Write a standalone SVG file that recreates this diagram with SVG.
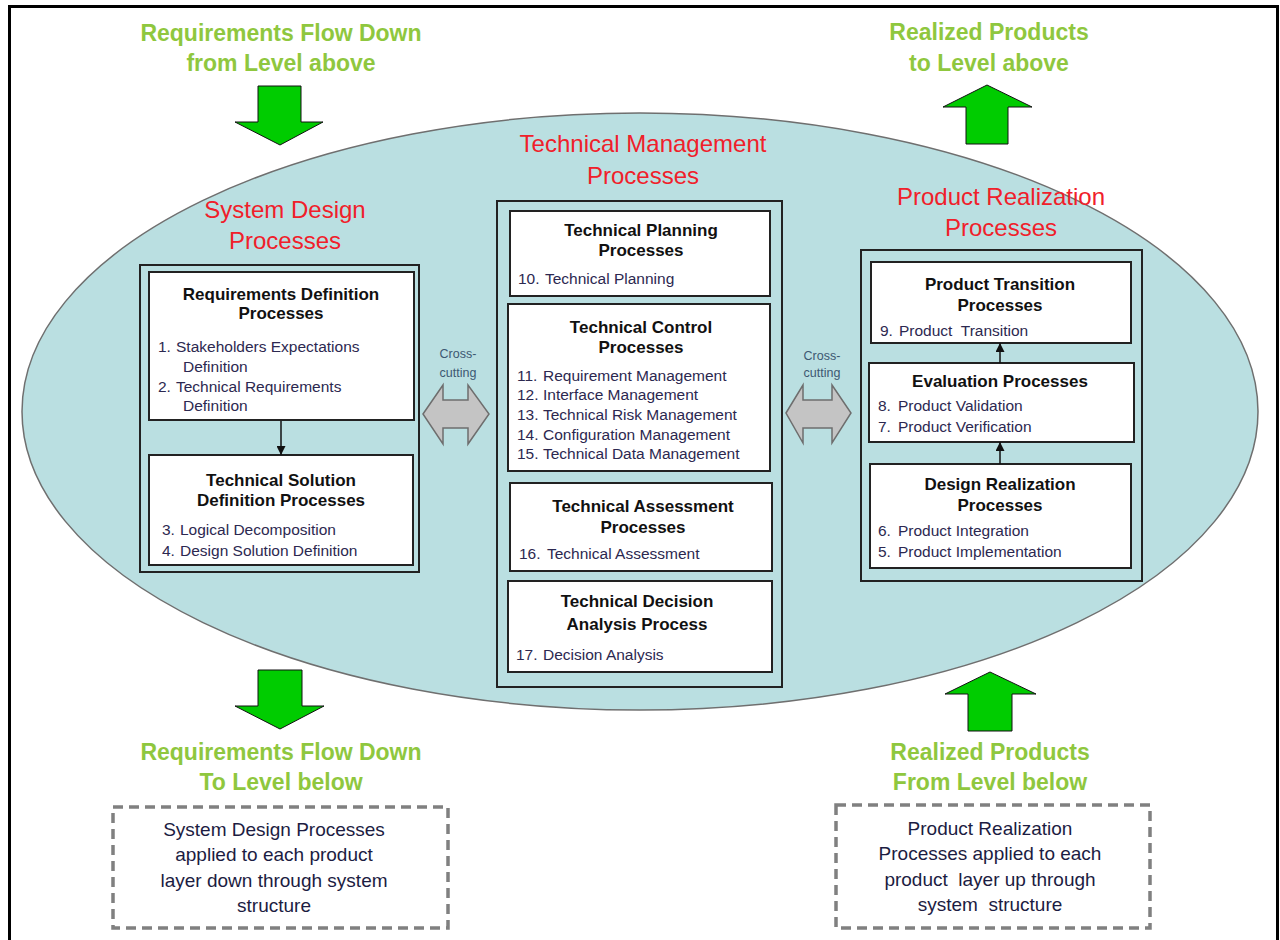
<svg xmlns="http://www.w3.org/2000/svg" width="1280" height="940" viewBox="0 0 1280 940">
<defs>
<style>
.green{font-family:"Liberation Sans",Arial,sans-serif;font-weight:bold;font-size:23px;fill:#8fc73e;text-anchor:middle}
.red{font-family:"Liberation Sans",Arial,sans-serif;font-size:24px;fill:#f0202a;text-anchor:middle}
.cont{fill:none;stroke:#222;stroke-width:2}
.box{fill:#fff;stroke:#222;stroke-width:2}
.title{font-family:"Liberation Sans",Arial,sans-serif;font-weight:bold;font-size:17px;fill:#111;text-anchor:middle}
.item{font-family:"Liberation Sans",Arial,sans-serif;font-size:15.5px;fill:#2c2850;white-space:pre}
.cc{font-family:"Liberation Sans",Arial,sans-serif;font-size:12.5px;fill:#3d5872;text-anchor:middle}
.dash{fill:none;stroke:#808080;stroke-width:3.5;stroke-dasharray:10 6}
.note{font-family:"Liberation Sans",Arial,sans-serif;font-size:19px;fill:#1c1c42;text-anchor:middle;white-space:pre}
.garrow{fill:#00cc00;stroke:#111;stroke-width:1}
.xarrow{fill:#c4c4c4;stroke:#6e6e6e;stroke-width:1.5}
.conn{stroke:#111;stroke-width:1.5;fill:none}
</style>
<marker id="ah" markerWidth="9" markerHeight="9" viewBox="0 0 10 10" refX="10" refY="5" orient="auto" markerUnits="userSpaceOnUse">
<path d="M0,0 L10,5 L0,10 z" fill="#111"/>
</marker>
</defs>
<rect x="0" y="0" width="1280" height="940" fill="#fff"/>
<rect x="9.5" y="6.5" width="1268" height="945" fill="none" stroke="#000" stroke-width="3"/>

<ellipse id="ellipse" cx="640" cy="411.5" rx="618" ry="298.5" fill="#badfe1" stroke="#6f6f6f" stroke-width="1.5"/>

<g id="flow-top-left">
<text class="green" x="281" y="41">Requirements Flow Down</text>
<text class="green" x="281" y="71">from Level above</text>
<polygon class="garrow" points="258,86 301,86 301,122 323,122 280,145 235,122 258,122"/>
</g>
<g id="flow-top-right">
<text class="green" x="989" y="40">Realized Products</text>
<text class="green" x="989" y="71">to Level above</text>
<polygon class="garrow" points="987,85 1032,107 1008,107 1008,144 966,144 966,107 943,107"/>
</g>
<g id="flow-bottom-left">
<polygon class="garrow" points="258,670 302,670 302,706 324,706 280,729 235,706 258,706"/>
<text class="green" x="281" y="760">Requirements Flow Down</text>
<text class="green" x="281" y="790">To Level below</text>
</g>
<g id="flow-bottom-right">
<polygon class="garrow" points="990,672 1036,694 1012,694 1012,731 968,731 968,694 945,694"/>
<text class="green" x="990" y="760">Realized Products</text>
<text class="green" x="990" y="790">From Level below</text>
</g>

<g id="system-design">
<text class="red" x="285" y="218">System Design</text>
<text class="red" x="285" y="249">Processes</text>
<rect class="cont" x="140" y="265" width="279" height="307"/>
</g>
<g id="req-def">
<rect class="box" x="149" y="272" width="265" height="148"/>
<text class="title" x="281" y="300">Requirements Definition</text>
<text class="title" x="281" y="319">Processes</text>
<text class="item" x="158" y="352">1.</text><text class="item" x="176" y="352">Stakeholders Expectations</text>
<text class="item" x="183" y="372">Definition</text>
<text class="item" x="158" y="392">2.</text><text class="item" x="176" y="392">Technical Requirements</text>
<text class="item" x="183" y="411">Definition</text>
</g>
<g id="tech-sol">
<rect class="box" x="149" y="455" width="264" height="110"/>
<text class="title" x="281" y="486">Technical Solution</text>
<text class="title" x="281" y="506">Definition Processes</text>
<text class="item" x="162" y="535">3.</text><text class="item" x="180" y="535">Logical Decomposition</text>
<text class="item" x="162" y="556">4.</text><text class="item" x="180" y="556">Design Solution Definition</text>
</g>

<g id="tech-mgmt">
<text class="red" x="643" y="152">Technical Management</text>
<text class="red" x="643" y="184">Processes</text>
<rect class="cont" x="497" y="201" width="285" height="486"/>
</g>
<g id="tech-plan">
<rect class="box" x="510" y="211" width="260" height="85"/>
<text class="title" x="641" y="236">Technical Planning</text>
<text class="title" x="641" y="256">Processes</text>
<text class="item" x="518" y="284">10.</text><text class="item" x="545" y="284">Technical Planning</text>
</g>
<g id="tech-ctrl">
<rect class="box" x="508" y="304" width="262" height="167"/>
<text class="title" x="641" y="333">Technical Control</text>
<text class="title" x="641" y="353">Processes</text>
<text class="item" x="517" y="381">11.</text><text class="item" x="543" y="381">Requirement Management</text>
<text class="item" x="517" y="400">12.</text><text class="item" x="543" y="400">Interface Management</text>
<text class="item" x="517" y="420">13.</text><text class="item" x="543" y="420">Technical Risk Management</text>
<text class="item" x="517" y="440">14.</text><text class="item" x="543" y="440">Configuration Management</text>
<text class="item" x="517" y="459">15.</text><text class="item" x="543" y="459">Technical Data Management</text>
</g>
<g id="tech-assess">
<rect class="box" x="510" y="483" width="262" height="88"/>
<text class="title" x="643" y="512">Technical Assessment</text>
<text class="title" x="643" y="533">Processes</text>
<text class="item" x="519" y="559">16.</text><text class="item" x="547" y="559">Technical Assessment</text>
</g>
<g id="tech-decision">
<rect class="box" x="508" y="581" width="264" height="91"/>
<text class="title" x="637" y="607">Technical Decision</text>
<text class="title" x="637" y="630">Analysis Process</text>
<text class="item" x="516" y="660">17.</text><text class="item" x="543" y="660">Decision Analysis</text>
</g>

<g id="product-realization">
<text class="red" x="1001" y="205">Product Realization</text>
<text class="red" x="1001" y="236">Processes</text>
<rect class="cont" x="861" y="250" width="281" height="331"/>
</g>
<g id="prod-transition">
<rect class="box" x="871" y="262" width="260" height="81"/>
<text class="title" x="1000" y="290">Product Transition</text>
<text class="title" x="1000" y="311">Processes</text>
<text class="item" x="880" y="336">9.</text><text class="item" x="899" y="336">Product  Transition</text>
</g>
<g id="evaluation">
<rect class="box" x="869" y="363" width="265" height="79"/>
<text class="title" x="1000" y="387">Evaluation Processes</text>
<text class="item" x="878" y="411">8.</text><text class="item" x="898" y="411">Product Validation</text>
<text class="item" x="878" y="432">7.</text><text class="item" x="898" y="432">Product Verification</text>
</g>
<g id="design-realization">
<rect class="box" x="870" y="464" width="261" height="104"/>
<text class="title" x="1000" y="490">Design Realization</text>
<text class="title" x="1000" y="511">Processes</text>
<text class="item" x="878" y="536">6.</text><text class="item" x="898" y="536">Product Integration</text>
<text class="item" x="878" y="557">5.</text><text class="item" x="898" y="557">Product Implementation</text>
</g>

<g id="connectors">
<line class="conn" x1="281" y1="421" x2="281" y2="455" marker-end="url(#ah)"/>
<line class="conn" x1="1000" y1="363" x2="1000" y2="343" marker-end="url(#ah)"/>
<line class="conn" x1="1000" y1="464" x2="1000" y2="442" marker-end="url(#ah)"/>
<polygon class="xarrow" points="423,414 443,385 443,400 468,400 468,385 489,414 468,444 468,428 443,428 443,444"/>
<text class="cc" x="458" y="358">Cross-</text>
<text class="cc" x="458" y="377">cutting</text>
<polygon class="xarrow" points="786,413 803,385 803,400 832,400 832,385 851,413 832,443 832,428 803,428 803,443"/>
<text class="cc" x="822" y="360">Cross-</text>
<text class="cc" x="822" y="377">cutting</text>
</g>

<g id="note-left">
<rect class="dash" x="113" y="807" width="335" height="121"/>
<text class="note" x="274" y="836">System Design Processes</text>
<text class="note" x="274" y="861">applied to each product</text>
<text class="note" x="274" y="887">layer down through system</text>
<text class="note" x="274" y="912">structure</text>
</g>
<g id="note-right">
<rect class="dash" x="836" y="805" width="314" height="123"/>
<text class="note" x="990" y="835">Product Realization</text>
<text class="note" x="990" y="860">Processes applied to each</text>
<text class="note" x="990" y="886">product  layer up through</text>
<text class="note" x="990" y="911">system  structure</text>
</g>
</svg>
